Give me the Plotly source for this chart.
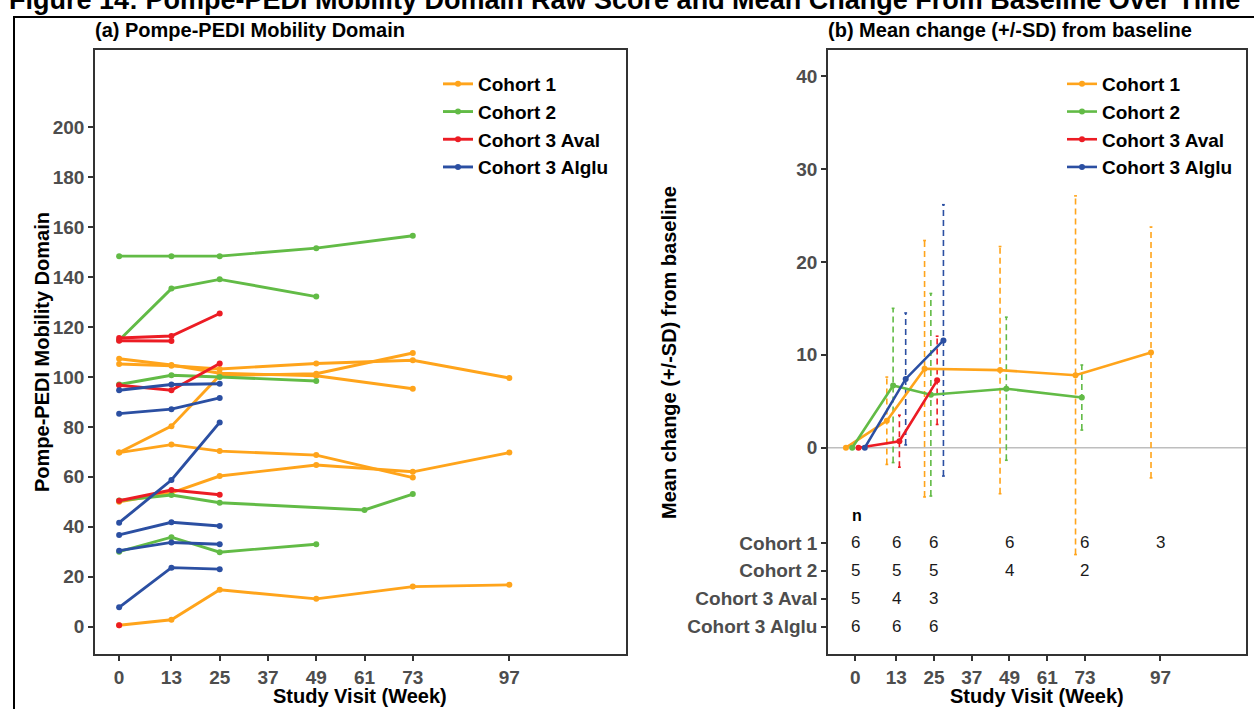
import plotly.graph_objects as go

W, H = 1254, 709


def px(x):
    return x / W


def py(y):
    return 1 - y / H


# ---------------- data ----------------
cohorts = ["Cohort 1", "Cohort 2", "Cohort 3 Aval", "Cohort 3 Alglu"]
colors = ["#FFA41B", "#62BB46", "#EC1C24", "#2B4FA2"]

# Panel (a): individual raw scores, aligned to each cohort's visit weeks (None = no visit)
c1_weeks = [0, 13, 25, 49, 73, 97]
c1_subjects = [
    [105.2, 104.5, 103.2, 105.4, 106.7, 99.6],
    [107.3, 104.8, 101.5, 100.5, 95.3, None],
    [69.7, 80.3, 100.6, 101.3, 109.6, None],
    [69.7, 72.9, 70.3, 68.7, 59.7, None],
    [50.0, 53.6, 60.3, 64.7, 62.0, 69.7],
    [0.5, 2.7, 14.7, 11.1, 16.0, 16.7],
]
c2_weeks = [0, 13, 25, 49, 61, 73]
c2_subjects = [
    [148.4, 148.4, 148.4, 151.6, None, 156.6],
    [114.7, 135.4, 139.1, 132.2, None, None],
    [97.0, 100.7, 100.0, 98.4, None, None],
    [50.5, 52.7, 49.6, None, 46.7, 53.1],
    [30.0, 35.8, 29.8, 33.0, None, None],
]
c3a_weeks = [0, 13, 25]
c3a_subjects = [
    [115.6, 116.4, 125.4],
    [114.5, 114.4, None],
    [96.7, 94.7, 105.4],
    [50.4, 54.7, 52.8],
    [0.5, None, None],
]
c3g_weeks = [0, 13, 25]
c3g_subjects = [
    [94.7, 97.0, 97.3],
    [85.3, 87.1, 91.6],
    [41.6, 58.7, 81.8],
    [36.7, 41.8, 40.3],
    [30.4, 33.7, 33.0],
    [7.7, 23.6, 23.0],
]

# Panel (b): mean change from baseline and SD
c1_mean = [0, 2.9, 8.5, 8.35, 7.8, 10.25]
c1_sd = [0, 4.7, 13.8, 13.3, 19.3, 13.5]
c2_mean = [0, 6.7, 5.7, 6.35, 5.4]
c2_sd = [0, 8.3, 10.9, 7.7, 3.5]
c2_mean_weeks = [0, 13, 25, 49, 73]
c3a_mean = [0, 0.7, 7.25]
c3a_sd = [0, 2.8, 4.75]
c3g_mean = [0, 7.4, 11.55]
c3g_sd = [0, 7.1, 14.6]

# number of subjects per visit
c1_n = [6, 6, 6, 6, 6, 3]
c2_n = [5, 5, 5, 4, 2]
c3a_n = [5, 4, 3]
c3g_n = [6, 6, 6]

x_ticks = [0, 13, 25, 37, 49, 61, 73, 97]
y_ticks_a = [0, 20, 40, 60, 80, 100, 120, 140, 160, 180, 200]
y_ticks_b = [0, 10, 20, 30, 40]
table_rows_y = [-10.25, -13.25, -16.25, -19.25]
dodge = [-3, -1, 1, 3]

raw = [(c1_weeks, c1_subjects), (c2_weeks, c2_subjects),
       (c3a_weeks, c3a_subjects), (c3g_weeks, c3g_subjects)]
summ = [(c1_weeks, c1_mean, c1_sd, c1_n), (c2_mean_weeks, c2_mean, c2_sd, c2_n),
        (c3a_weeks, c3a_mean, c3a_sd, c3a_n), (c3g_weeks, c3g_mean, c3g_sd, c3g_n)]

FONT = "Liberation Sans, Arial, sans-serif"
TICKC = "#4D4D4D"

fig = go.Figure()

# ---------------- panel (a) ----------------
for ci, (wk, subs) in enumerate(raw):
    for si, vals in enumerate(subs):
        fig.add_trace(go.Scatter(
            x=wk, y=vals, mode="lines+markers", connectgaps=True,
            line=dict(color=colors[ci], width=2.9),
            marker=dict(color=colors[ci], size=6),
            name=cohorts[ci], legendgroup=cohorts[ci], legend="legend",
            showlegend=(si == 0), xaxis="x", yaxis="y"))

# ---------------- panel (b) ----------------
cap = 0.45
for ci, (wk, mean, sd, n) in enumerate(summ):
    xs = [w + dodge[ci] for w in wk]
    ex, ey = [], []
    for x, m, s in zip(xs, mean, sd):
        if s <= 0:
            continue
        lo, hi = m - s, m + s
        ex += [x, x, None, x - cap, x + cap, None, x - cap, x + cap, None]
        ey += [lo, hi, None, lo, lo, None, hi, hi, None]
    fig.add_trace(go.Scatter(
        x=ex, y=ey, mode="lines", line=dict(color=colors[ci], width=1.6, dash="6px,4px"),
        showlegend=False, hoverinfo="skip", xaxis="x2", yaxis="y2"))
for ci, (wk, mean, sd, n) in enumerate(summ):
    xs = [w + dodge[ci] for w in wk]
    fig.add_trace(go.Scatter(
        x=xs, y=mean, mode="lines+markers",
        line=dict(color=colors[ci], width=2.6),
        marker=dict(color=colors[ci], size=6),
        name=cohorts[ci], legend="legend2", xaxis="x2", yaxis="y2"))

# n table
annotations = []
for ci, (wk, mean, sd, n) in enumerate(summ):
    for w, cnt in zip(wk, n):
        annotations.append(dict(x=w, y=table_rows_y[ci], xref="x2", yref="y2",
                                text=str(cnt), showarrow=False,
                                font=dict(family=FONT, size=17, color="#1a1a1a")))
annotations.append(dict(x=0.5, y=-7.3, xref="x2", yref="y2", text="n", showarrow=False,
                        font=dict(family=FONT, size=16, color="black", weight="bold")))

# titles
annotations += [
    dict(x=px(8), y=py(16), xref="paper", yref="paper", xanchor="left", yanchor="bottom",
         text="Figure 14: Pompe-PEDI Mobility Domain Raw Score and Mean Change From Baseline Over Time",
         showarrow=False, borderpad=0,
         font=dict(family=FONT, size=27, color="black", weight="bold")),
    dict(x=px(93), y=py(30), xref="paper", yref="paper", xanchor="left", yanchor="middle",
         text="(a) Pompe-PEDI Mobility Domain", showarrow=False,
         font=dict(family=FONT, size=20, color="black", weight="bold")),
    dict(x=px(826), y=py(30), xref="paper", yref="paper", xanchor="left", yanchor="middle",
         text="(b) Mean change (+/-SD) from baseline", showarrow=False,
         font=dict(family=FONT, size=20, color="black", weight="bold")),
    dict(x=px(360), y=py(696), xref="paper", yref="paper", xanchor="center", yanchor="middle",
         text="Study Visit (Week)", showarrow=False,
         font=dict(family=FONT, size=20, color="black", weight="bold")),
    dict(x=px(1037), y=py(696), xref="paper", yref="paper", xanchor="center", yanchor="middle",
         text="Study Visit (Week)", showarrow=False,
         font=dict(family=FONT, size=20, color="black", weight="bold")),
    dict(x=px(42), y=py(352), xref="paper", yref="paper", xanchor="center", yanchor="middle",
         text="Pompe-PEDI Mobility Domain", showarrow=False, textangle=-90,
         font=dict(family=FONT, size=20, color="black", weight="bold")),
    dict(x=px(669), y=py(352), xref="paper", yref="paper", xanchor="center", yanchor="middle",
         text="Mean change (+/-SD) from baseline", showarrow=False, textangle=-90,
         font=dict(family=FONT, size=20, color="black", weight="bold")),
]

shapes = [
    dict(type="line", xref="x2 domain", x0=0, x1=1, yref="y2", y0=0, y1=0,
         line=dict(color="#BEBEBE", width=1.6), layer="below"),
    dict(type="rect", xref="paper", yref="paper", x0=px(14), x1=px(1262), y0=py(17), y1=py(720),
         line=dict(color="black", width=2), layer="above"),
]

axis_common = dict(showline=True, mirror=True, linecolor="#333333", linewidth=1.5,
                   ticks="outside", ticklen=5, tickwidth=1.5, tickcolor="#333333",
                   showgrid=False, zeroline=False,
                   tickfont=dict(family=FONT, size=19, color=TICKC, weight="bold"))

legend_font = dict(family=FONT, size=19, color="black", weight="bold")

fig.update_layout(
    width=W, height=H, margin=dict(l=0, r=0, t=0, b=0),
    paper_bgcolor="white", plot_bgcolor="white",
    xaxis=dict(domain=[px(95), px(626)], range=[-6, 126], tickvals=x_ticks, anchor="y", **axis_common),
    yaxis=dict(domain=[py(654), py(50)], range=[-11, 231], tickvals=y_ticks_a, anchor="x", **axis_common),
    xaxis2=dict(domain=[px(828), px(1246)], range=[-8.7, 124.2], tickvals=x_ticks, anchor="y2", **axis_common),
    yaxis2=dict(domain=[py(654), py(50)], range=[-22.2, 42.8],
                tickvals=y_ticks_b + table_rows_y,
                ticktext=[str(v) for v in y_ticks_b] + cohorts,
                anchor="x2", **axis_common),
    legend=dict(x=px(438), y=py(65), xanchor="left", yanchor="top", bgcolor="rgba(0,0,0,0)",
                font=legend_font, tracegroupgap=0),
    legend2=dict(x=px(1062), y=py(65), xanchor="left", yanchor="top", bgcolor="rgba(0,0,0,0)",
                 font=legend_font, tracegroupgap=0),
    annotations=annotations, shapes=shapes,
)

fig.write_html("out.html")
